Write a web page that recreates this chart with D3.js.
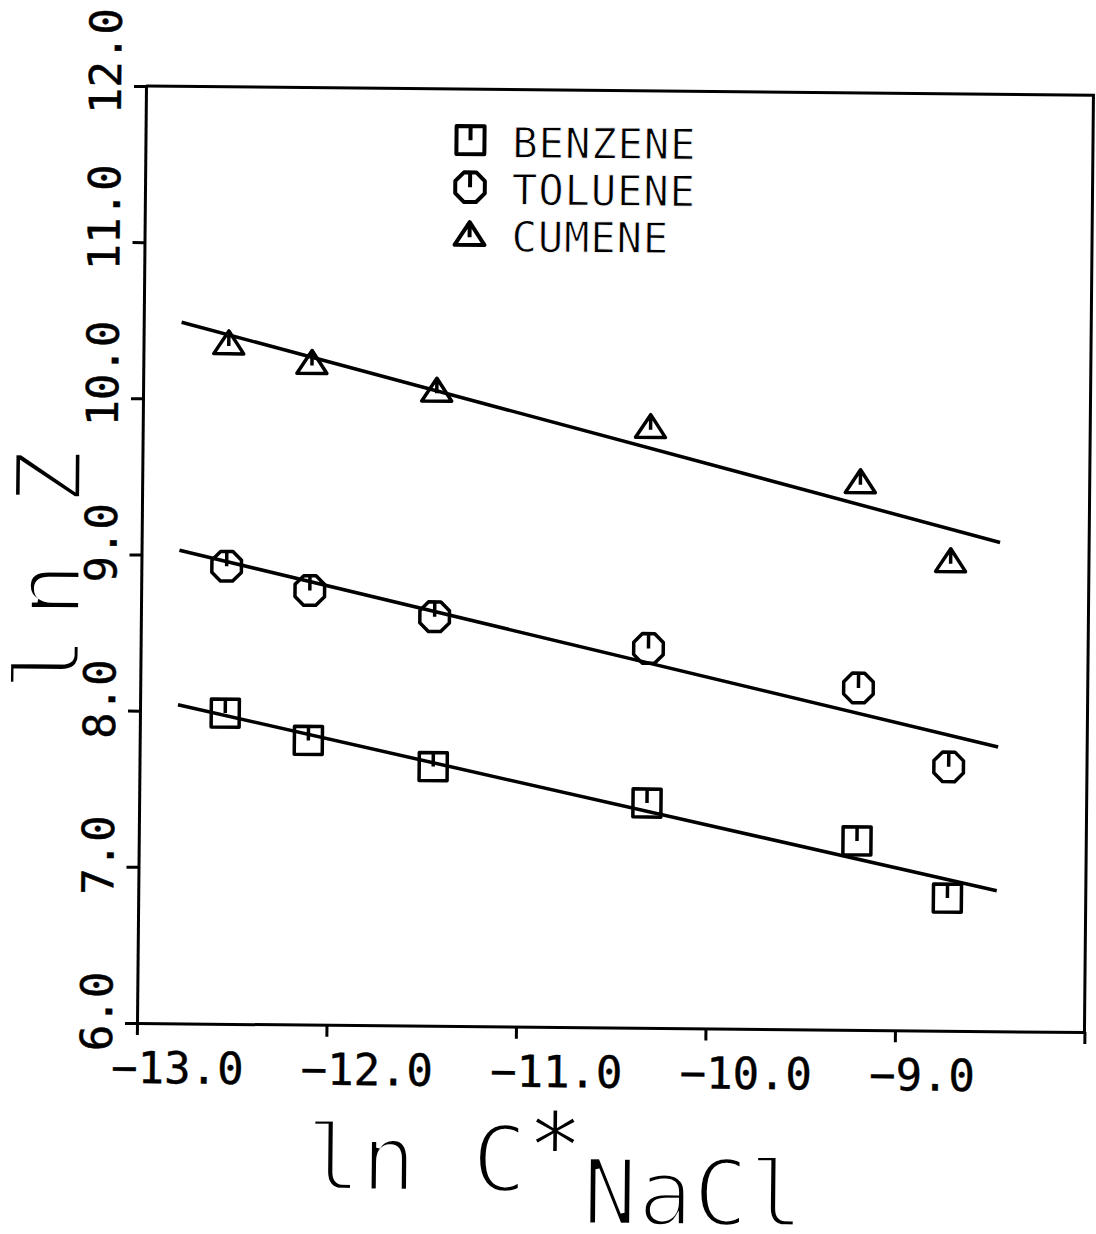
<!DOCTYPE html>
<html>
<head>
<meta charset="utf-8">
<script src="https://cdn.jsdelivr.net/npm/d3@7"></script>
<style>
  body { margin: 0; background: #fff; }
  svg { display: block; }
</style>
</head>
<body>
<svg id="chart"></svg>
<script>
// ln C*NaCl values where the three solutes were measured
var lnC = [-12.55, -12.11, -11.45, -10.32, -9.21, -8.73];

// ln Z
var benzene = [7.99, 7.82, 7.66, 7.44, 7.21, 6.85];
var toluene = [8.93, 8.78, 8.62, 8.43, 8.19, 7.69];
var cumene  = [10.36, 10.24, 10.07, 9.85, 9.51, 9.01];

// fitted straight lines, given at their two ends
var fitRange   = [-12.8, -8.47];
var benzeneFit = [8.04, 6.90];
var tolueneFit = [9.03, 7.82];
var cumeneFit  = [10.49, 9.13];

var seriesNames = ["BENZENE", "TOLUENE", "CUMENE"];
var xTicks = [-13, -12, -11, -10, -9, -8];
var yTicks = [6, 7, 8, 9, 10, 11, 12];

var width = 1096, height = 1234;

var svg = d3.select("#chart")
  .attr("width", width)
  .attr("height", height);

svg.append("rect")
  .attr("width", width)
  .attr("height", height)
  .attr("fill", "#fff");

var x = d3.scaleLinear().domain([-13, -8]).range([137, 1084.5]);
var y = d3.scaleLinear().domain([6, 12]).range([1023, 86]);

// the scanned page is a little tilted
var root = svg.append("g")
  .attr("transform", "rotate(0.55," + x(-13) + "," + y(6) + ")");

var monoFont = "'DejaVu Sans Mono', 'Liberation Mono', monospace";

// axes
var xAxis = d3.axisBottom(x)
  .tickValues(xTicks)
  .tickSize(12)
  .tickSizeOuter(0)
  .tickFormat(function(d) { return d === -8 ? "" : d3.format(".1f")(d); });

var gx = root.append("g")
  .attr("transform", "translate(0," + y(6) + ")")
  .call(xAxis);

gx.selectAll("text")
  .attr("text-anchor", "start")
  .attr("x", -26)
  .attr("y", 60)
  .attr("dy", null);

var yAxis = d3.axisLeft(y)
  .tickValues(yTicks)
  .tickSize(12)
  .tickSizeOuter(0)
  .tickFormat(d3.format(".1f"));

var gy = root.append("g")
  .attr("transform", "translate(" + x(-13) + ",0)")
  .call(yAxis);

gy.selectAll("text")
  .attr("text-anchor", "start")
  .attr("x", 0)
  .attr("y", 0)
  .attr("dy", null)
  .attr("transform", "translate(-25,28) rotate(-90)");

[gx, gy].forEach(function(g) {
  g.select(".domain").attr("stroke", "#000").attr("stroke-width", 3);
  g.selectAll(".tick line").attr("stroke", "#000").attr("stroke-width", 3);
  g.selectAll("text")
    .attr("fill", "#000")
    .style("font-family", monoFont)
    .style("font-size", "44px")
    .style("stroke", "#000")
    .style("stroke-width", 0.4);
});

// top and right border
root.append("path")
  .attr("d", "M" + x(-13) + "," + y(12) + "H" + x(-8) + "V" + y(6))
  .attr("fill", "none")
  .attr("stroke", "#000")
  .attr("stroke-width", 3);

// marker shapes, plotter style: open symbol with a stroke from the top to the centre
function squareMark(r) {
  return "M" + (-r) + "," + (-r) + "H" + r + "V" + r + "H" + (-r) + "Z" +
    "M0," + (-r) + "V0";
}
function octagonMark(r) {
  var pts = d3.range(8).map(function(i) {
    var a = Math.PI / 8 + i * Math.PI / 4;
    return [r * Math.cos(a), r * Math.sin(a)];
  });
  return "M" + pts.join("L") + "Z" + "M0," + (-r * Math.cos(Math.PI / 8)) + "V0";
}
function triangleMark(r) {
  return "M" + (-r) + "," + (r * 0.72) + "L0," + (-r * 0.8) + "L" + r + "," + (r * 0.72) + "Z" +
    "M0," + (-r * 0.8) + "V" + (r * 0.2);
}

var series = [
  { name: seriesNames[0], values: benzene, fit: benzeneFit, mark: squareMark(14) },
  { name: seriesNames[1], values: toluene, fit: tolueneFit, mark: octagonMark(16) },
  { name: seriesNames[2], values: cumene,  fit: cumeneFit,  mark: triangleMark(15) }
];

var line = d3.line()
  .x(function(d) { return x(d[0]); })
  .y(function(d) { return y(d[1]); });

series.forEach(function(s) {
  root.append("path")
    .datum(d3.zip(fitRange, s.fit))
    .attr("d", line)
    .attr("fill", "none")
    .attr("stroke", "#000")
    .attr("stroke-width", 3.5);

  root.selectAll(null)
    .data(d3.zip(lnC, s.values))
    .enter()
    .append("path")
    .attr("transform", function(d) { return "translate(" + x(d[0]) + "," + y(d[1]) + ")"; })
    .attr("d", s.mark)
    .attr("fill", "none")
    .attr("stroke", "#000")
    .attr("stroke-width", 3.5)
    .attr("stroke-linejoin", "round");
});

// legend
var legend = root.append("g")
  .attr("transform", "translate(462,137)");

var items = legend.selectAll("g")
  .data(series)
  .enter()
  .append("g")
  .attr("transform", function(d, i) { return "translate(0," + (i * 47) + ")"; });

items.append("path")
  .attr("d", function(d) { return d.mark; })
  .attr("fill", "none")
  .attr("stroke", "#000")
  .attr("stroke-width", 4)
  .attr("stroke-linejoin", "round");

items.append("text")
  .attr("x", 42)
  .attr("y", 17)
  .text(function(d) { return d.name; })
  .style("font-family", monoFont)
  .style("font-size", "42px")
  .style("letter-spacing", "1px")
  .style("stroke", "#fff")
  .style("stroke-width", 0.8);

// axis titles (thin plotter lettering)
var xTitle = root.append("text")
  .attr("x", 307)
  .attr("y", 1188)
  .style("font-family", monoFont)
  .style("font-size", "92px")
  .style("stroke", "#fff")
  .style("stroke-width", 4);
xTitle.append("tspan").text("ln C");
xTitle.append("tspan").attr("dy", -14)
  .style("stroke-width", 1.5).text("*");
xTitle.append("tspan").attr("dy", 46).text("NaCl");

var yTitle = root.append("text")
  .attr("transform", "translate(76,692) rotate(-90)")
  .style("font-family", monoFont)
  .style("font-size", "92px")
  .style("stroke", "#fff")
  .style("stroke-width", 4);
yTitle.append("tspan").style("letter-spacing", "18px").text("ln");
yTitle.append("tspan").attr("dx", -16).text(" Z");
</script>
</body>
</html>
